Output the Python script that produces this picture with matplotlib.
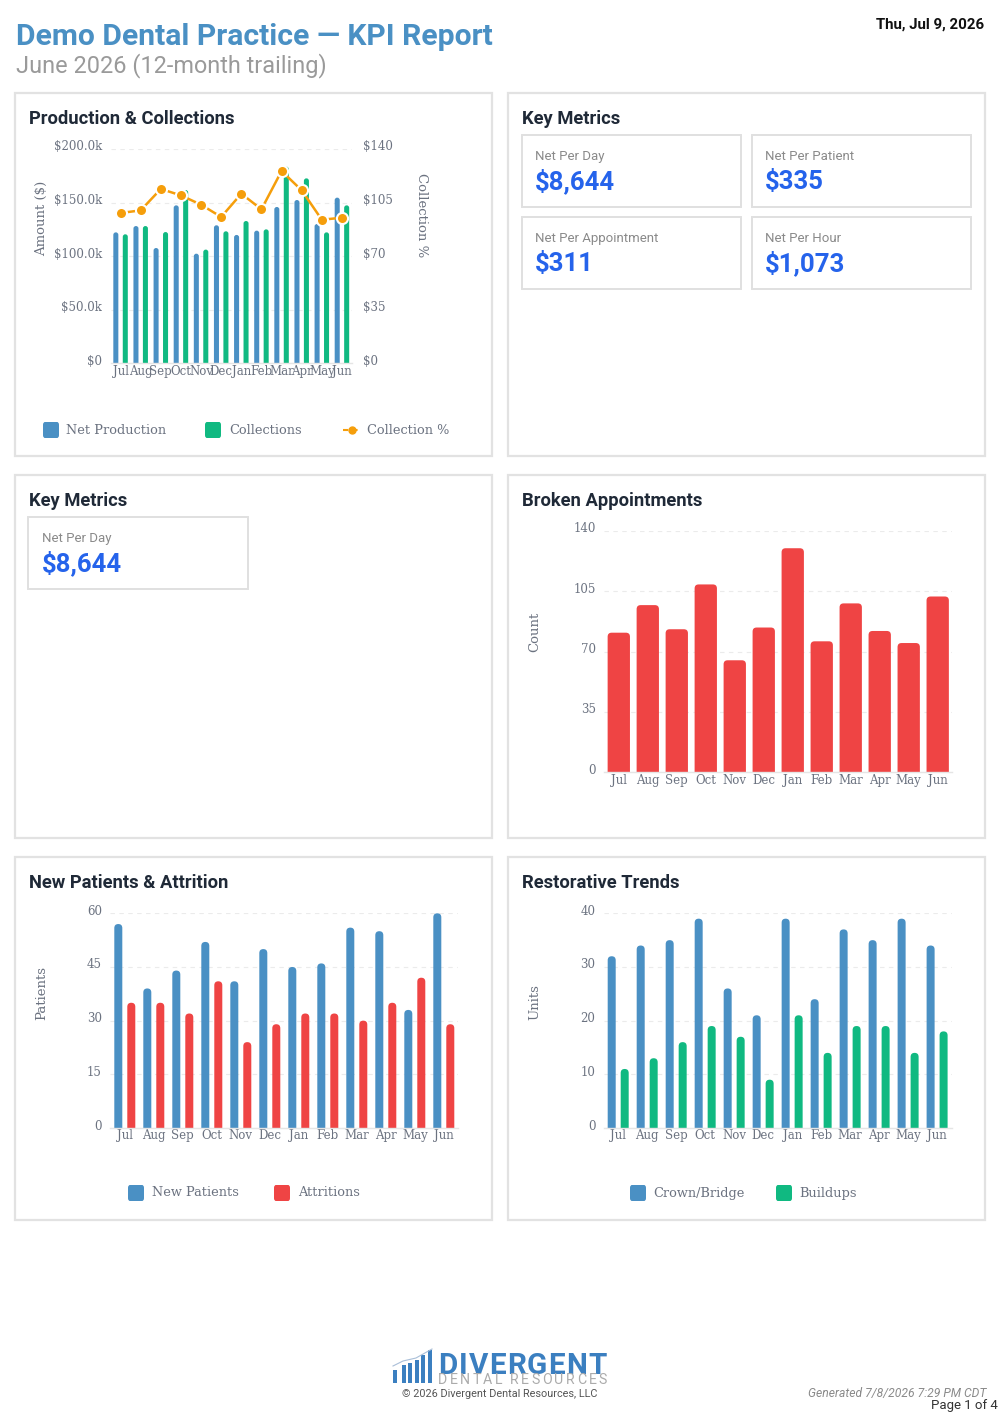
import matplotlib
matplotlib.use('Agg')
import matplotlib.pyplot as plt
from matplotlib.patches import Rectangle, FancyBboxPatch
from matplotlib.lines import Line2D
from matplotlib.transforms import ScaledTranslation
import numpy as np

# ---------------- data ----------------
months = ['Jul', 'Aug', 'Sep', 'Oct', 'Nov', 'Dec', 'Jan', 'Feb', 'Mar', 'Apr', 'May', 'Jun']
net_production = [122200, 128100, 107600, 147400, 102300, 128800, 119800, 123800, 145900, 152400, 130000, 154600]
collections = [120400, 128100, 122500, 161700, 106100, 123200, 132800, 125000, 183500, 172600, 122200, 147400]
collection_pct = [98.2, 99.9, 113.9, 109.7, 103.6, 95.6, 110.8, 100.6, 125.6, 113.0, 93.8, 95.1]
broken_appts = [81, 97, 83, 109, 65, 84, 130, 76, 98, 82, 75, 102]
new_patients = [57, 39, 44, 52, 41, 50, 45, 46, 56, 55, 33, 60]
attritions = [35, 35, 32, 41, 24, 29, 32, 32, 30, 35, 42, 29]
crown_bridge = [32, 34, 35, 39, 26, 21, 39, 24, 37, 35, 39, 34]
buildups = [11, 13, 16, 19, 17, 9, 21, 14, 19, 19, 14, 18]

prod_ticks = [0, 50000, 100000, 150000, 200000]
prod_tick_labels = ['$0', '$50.0k', '$100.0k', '$150.0k', '$200.0k']
pct_ticks = [0, 35, 70, 105, 140]
pct_tick_labels = ['$0', '$35', '$70', '$105', '$140']
broken_ticks = [0, 35, 70, 105, 140]
patient_ticks = [0, 15, 30, 45, 60]
unit_ticks = [0, 10, 20, 30, 40]

metric_labels = ['Net Per Day', 'Net Per Patient', 'Net Per Appointment', 'Net Per Hour']
metric_values = ['$8,644', '$335', '$311', '$1,073']

# ---------------- style ----------------
BLUE = '#4A90C4'
GREEN = '#10B981'
RED = '#EF4444'
ORANGE = '#F59E0B'
TICK = '#6B7280'
GRID = '#EBEBEB'
BORDER = '#E2E2E2'
TITLE = '#1F2937'
VALUE = '#2563EB'
SANS = ['Roboto', 'DejaVu Sans']

plt.rcParams['font.family'] = ['DejaVu Serif']

W, H = 1000, 1416
fig = plt.figure(figsize=(W / 100, H / 100), dpi=100)
fig.patch.set_facecolor('white')
renderer = fig.canvas.get_renderer()


def ax_at(x0, y0, x1, y1):
    return fig.add_axes([x0 / W, 1 - y1 / H, (x1 - x0) / W, (y1 - y0) / H])


def ptxt(x, y, s, **kw):
    return fig.text(x / W, 1 - y / H, s, **kw)


def tracked(x, y, s, target_w, **kw):
    """Text spread to a given pixel width (letter spacing)."""
    arts = [ptxt(x, y, ch, **kw) for ch in s]
    widths = [a.get_window_extent(renderer).width for a in arts]
    track = (target_w - sum(widths)) / max(len(s) - 1, 1)
    cx = x
    for a, w in zip(arts, widths):
        a.set_x(cx / W)
        cx += w + track


def rect(x0, y0, x1, y1, ec=BORDER, lw=1.5, fc='white', z=0):
    fig.add_artist(Rectangle((x0 / W, 1 - y1 / H), (x1 - x0) / W, (y1 - y0) / H,
                             transform=fig.transFigure, fc=fc, ec=ec, lw=lw, zorder=z))


def legend_square(x0, yc, color):
    fig.add_artist(FancyBboxPatch((x0 / W, 1 - (yc + 8) / H), 16 / W, 16 / H,
                                  boxstyle='round,pad=0,rounding_size=0.002',
                                  transform=fig.transFigure, fc=color, ec='none'))


def round_bars(ax, bars, r_px, px_w, px_h):
    x0, x1 = ax.get_xlim()
    y0, y1 = ax.get_ylim()
    dx = (x1 - x0) / px_w
    dy = (y1 - y0) / px_h
    for b in bars:
        x, w, h = b.get_x(), b.get_width(), b.get_height()
        r = min(r_px, w / dx / 2)
        p = FancyBboxPatch((x, -r * dy), w, h + r * dy,
                           boxstyle=f'round,pad=0,rounding_size={r * dx}',
                           mutation_aspect=dy / dx, fc=b.get_facecolor(), ec='none', zorder=2)
        ax.add_patch(p)
        b.set_visible(False)


def lift_ylabels(ax, px=3.5):
    for lab in ax.get_yticklabels():
        lab.set_transform(lab.get_transform() + ScaledTranslation(0, px / 100, fig.dpi_scale_trans))


def style_axes(ax, ylim, yticks, yticklabels=None):
    ax.set_xlim(-0.5, len(months) - 0.5)
    ax.set_ylim(*ylim)
    ax.set_yticks(yticks)
    if yticklabels is not None:
        ax.set_yticklabels(yticklabels)
    ax.set_xticks(np.arange(len(months)))
    ax.set_xticklabels(months)
    for s in ['top', 'right', 'left']:
        ax.spines[s].set_visible(False)
    ax.spines['bottom'].set_color('#E5E5E5')
    ax.spines['bottom'].set_linewidth(1.0)
    ax.tick_params(axis='y', length=0, labelsize=8.5, labelcolor=TICK, pad=6)
    ax.tick_params(axis='x', length=0, labelsize=8.5, labelcolor=TICK, pad=1)
    ax.yaxis.grid(True, color=GRID, linestyle=(0, (4, 4)), linewidth=0.8)
    ax.xaxis.grid(False)
    ax.set_axisbelow(True)
    ax.patch.set_alpha(0)
    lift_ylabels(ax)


# ---------------- cards ----------------
cards = [(15, 93, 492, 456), (508, 93, 985, 456), (15, 475, 492, 838),
         (508, 475, 985, 838), (15, 857, 492, 1220), (508, 857, 985, 1220)]
for c in cards:
    rect(*c, ec=BORDER, lw=1.6)

# ---------------- header ----------------
ptxt(16, 45, 'Demo Dental Practice \u2014 KPI Report', family=SANS, fontweight='bold',
     fontsize=21.7, color=BLUE, va='baseline')
ptxt(16, 72, 'June 2026 (12-month trailing)', family=SANS, fontsize=16.9, color='#9A9A9A', va='baseline')
ptxt(984, 29, 'Thu, Jul 9, 2026', family=SANS, fontweight='bold',
     fontsize=10.8, color='#111111', va='baseline', ha='right')

# card titles
for (x, y, t) in [(29, 124, 'Production & Collections'), (522, 124, 'Key Metrics'),
                  (29, 506, 'Key Metrics'), (522, 506, 'Broken Appointments'),
                  (29, 888, 'New Patients & Attrition'), (522, 888, 'Restorative Trends')]:
    ptxt(x, y, t, family=SANS, fontweight='bold', fontsize=13.2, color=TITLE, va='baseline')

# ---------------- key metric tiles ----------------
tiles = [(522, 135, 741, 207), (752, 135, 971, 207), (522, 217, 741, 289), (752, 217, 971, 289)]
for (x0, y0, x1, y1), lab, val in zip(tiles, metric_labels, metric_values):
    rect(x0, y0, x1, y1, ec='#E0E0E0', lw=1.4)
    ptxt(x0 + 13, y0 + 25, lab, family=SANS, fontsize=9.5, color='#8A8A8A', va='baseline')
    ptxt(x0 + 13, y0 + 54, val, family=SANS, fontweight='bold', fontsize=18.5, color=VALUE, va='baseline')

x0, y0, x1, y1 = 28, 517, 248, 589
rect(x0, y0, x1, y1, ec='#E0E0E0', lw=1.4)
ptxt(x0 + 14, y0 + 25, metric_labels[0], family=SANS, fontsize=9.5, color='#8A8A8A', va='baseline')
ptxt(x0 + 14, y0 + 54, metric_values[0], family=SANS, fontweight='bold', fontsize=18.5, color=VALUE, va='baseline')

x = np.arange(len(months))

# ---------------- Production & Collections ----------------
PX0, PY0, PX1, PY1 = 110.5, 149, 352, 363.3
ax = ax_at(PX0, PY0, PX1, PY1)
style_axes(ax, (0, 200000), prod_ticks, prod_tick_labels)
b1 = ax.bar(x - 0.235, net_production, width=0.25, color=BLUE)
b2 = ax.bar(x + 0.235, collections, width=0.25, color=GREEN)
round_bars(ax, b1, 2.5, PX1 - PX0, PY1 - PY0)
round_bars(ax, b2, 2.5, PX1 - PX0, PY1 - PY0)
ax2 = ax.twinx()
ax2.set_ylim(0, 140)
ax2.set_yticks(pct_ticks)
ax2.set_yticklabels(pct_tick_labels)
for s in ['top', 'right', 'left', 'bottom']:
    ax2.spines[s].set_visible(False)
ax2.tick_params(axis='y', length=0, labelsize=8.5, labelcolor=TICK, pad=8)
lift_ylabels(ax2)
ax2.plot(x, collection_pct, color=ORANGE, lw=1.8, marker='o', ms=8, mfc=ORANGE, mec='white', mew=1.5,
         zorder=5, clip_on=False)
ptxt(42, 218, 'Amount ($)', fontsize=9.5, color=TICK, rotation=90, ha='center', va='center')
ptxt(421, 215, 'Collection %', fontsize=9.5, color=TICK, rotation=270, ha='center', va='center')

legend_square(43, 430, BLUE)
ptxt(66, 430, 'Net Production', fontsize=9.3, color=TICK, va='center')
legend_square(205, 430, GREEN)
ptxt(229, 430, 'Collections', fontsize=9.3, color=TICK, va='center')
fig.add_artist(Line2D([343 / W, 361 / W], [1 - 430 / H] * 2, transform=fig.transFigure, color=ORANGE,
                      lw=1.5, ls=(0, (2.5, 2))))
fig.add_artist(Line2D([352 / W], [1 - 430 / H], transform=fig.transFigure, color=ORANGE, marker='o', ms=5,
                      mec=ORANGE))
ptxt(367, 430, 'Collection %', fontsize=9.3, color=TICK, va='center')

# ---------------- Broken Appointments ----------------
BX0, BY0, BX1, BY1 = 604.3, 531, 952.2, 772.3
axb = ax_at(BX0, BY0, BX1, BY1)
style_axes(axb, (0, 140), broken_ticks)
bb = axb.bar(x, broken_appts, width=0.77, color=RED)
round_bars(axb, bb, 4, BX1 - BX0, BY1 - BY0)
ptxt(535, 632, 'Count', fontsize=9.5, color=TICK, rotation=90, ha='center', va='center')

# ---------------- New Patients & Attrition ----------------
NX0, NY0, NX1, NY1 = 110.3, 913.3, 458.3, 1128
axn = ax_at(NX0, NY0, NX1, NY1)
style_axes(axn, (0, 60), patient_ticks)
n1 = axn.bar(x - 0.224, new_patients, width=0.276, color=BLUE)
n2 = axn.bar(x + 0.224, attritions, width=0.276, color=RED)
round_bars(axn, n1, 4, NX1 - NX0, NY1 - NY0)
round_bars(axn, n2, 4, NX1 - NX0, NY1 - NY0)
ptxt(42, 993, 'Patients', fontsize=9.5, color=TICK, rotation=90, ha='center', va='center')
legend_square(128, 1193, BLUE)
ptxt(152, 1193, 'New Patients', fontsize=9.3, color=TICK, va='center')
legend_square(274, 1193, RED)
ptxt(298, 1193, 'Attritions', fontsize=9.3, color=TICK, va='center')

# ---------------- Restorative Trends ----------------
RX0, RY0, RX1, RY1 = 603.7, 913.3, 951.6, 1128
axr = ax_at(RX0, RY0, RX1, RY1)
style_axes(axr, (0, 40), unit_ticks)
r1 = axr.bar(x - 0.224, crown_bridge, width=0.276, color=BLUE)
r2 = axr.bar(x + 0.224, buildups, width=0.276, color=GREEN)
round_bars(axr, r1, 4, RX1 - RX0, RY1 - RY0)
round_bars(axr, r2, 4, RX1 - RX0, RY1 - RY0)
ptxt(535, 1002, 'Units', fontsize=9.5, color=TICK, rotation=90, ha='center', va='center')
legend_square(630, 1193, BLUE)
ptxt(653, 1193, 'Crown/Bridge', fontsize=9.3, color=TICK, va='center')
legend_square(776, 1193, GREEN)
ptxt(799, 1193, 'Buildups', fontsize=9.3, color=TICK, va='center')

# ---------------- footer / logo ----------------
LOGO = '#3B7FC0'
logo_bars = [(393, 1370), (401.5, 1365), (408, 1363), (414.5, 1360), (421, 1355), (428, 1350)]
for bx, top in logo_bars:
    fig.add_artist(Rectangle((bx / W, 1 - 1383 / H), 4.3 / W, (1383 - top) / H, transform=fig.transFigure,
                             fc=LOGO, ec='none'))
fig.add_artist(Line2D([393 / W, 403 / W, 416 / W, 432 / W], [1 - 1366 / H, 1 - 1361 / H, 1 - 1358 / H, 1 - 1349 / H],
                      transform=fig.transFigure, color='#A9BFD8', lw=0.8))
tracked(438, 1373.5, 'DIVERGENT', 169, family=SANS, fontweight='bold', fontsize=21.3, color=LOGO,
        va='baseline')
tracked(438, 1384, 'DENTAL RESOURCES', 169, family=SANS, fontsize=10.2,
        color='#ABABAB', va='baseline')
ptxt(500, 1397, '\u00a9 2026 Divergent Dental Resources, LLC', family=SANS, fontsize=7.8, color='#555555',
     ha='center', va='baseline')
ptxt(986, 1397, 'Generated 7/8/2026 7:29 PM CDT', family=SANS, fontsize=8.7, style='italic', color='#8A8A8A',
     ha='right', va='baseline')
ptxt(998, 1409, 'Page 1 of 4', family=SANS, fontsize=9.5, color='#333333', ha='right', va='baseline')

fig.savefig('out.png', dpi=100, facecolor='white')
